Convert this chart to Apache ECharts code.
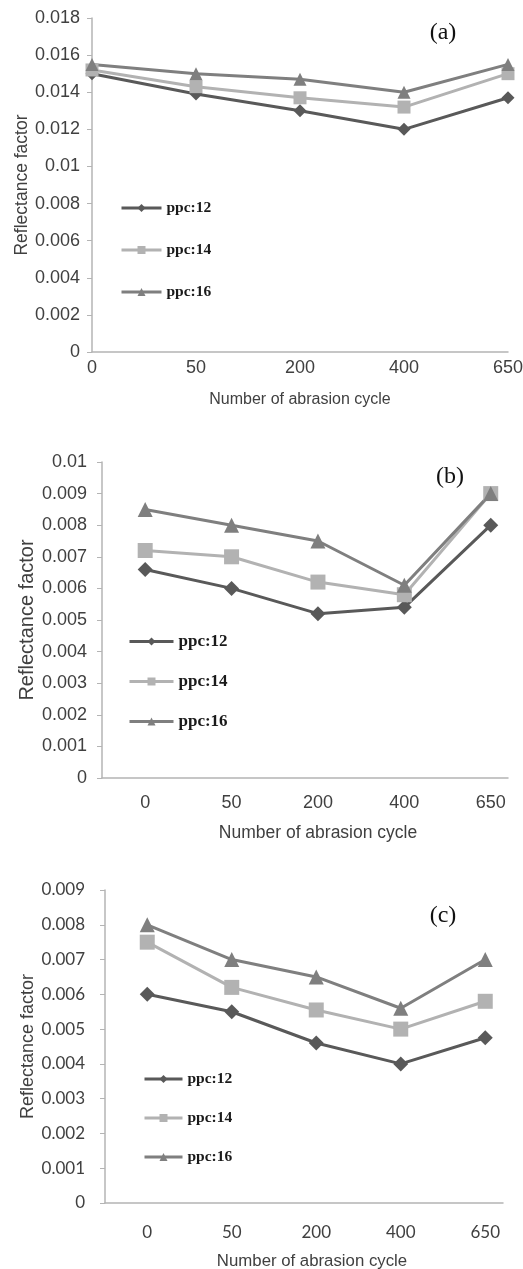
<!DOCTYPE html>
<html>
<head>
<meta charset="utf-8">
<script src="https://cdn.jsdelivr.net/npm/echarts@6/dist/echarts.min.js"></script>
<style>
  html, body { margin: 0; padding: 0; background: #fff; }
  #main { width: 523px; height: 1269px; }
</style>
</head>
<body>
<div id="main"></div>
<script>
  // abrasion cycles (x categories)
  var cycles = ['0', '50', '200', '400', '650'];
  var seriesNames = ['ppc:12', 'ppc:14', 'ppc:16'];

  // panel (a)
  var a_ppc12 = [0.0150, 0.0139, 0.0130, 0.0120, 0.0137];
  var a_ppc14 = [0.0152, 0.0143, 0.0137, 0.0132, 0.0150];
  var a_ppc16 = [0.0155, 0.0150, 0.0147, 0.0140, 0.0155];

  // panel (b)
  var b_ppc12 = [0.0066, 0.0060, 0.0052, 0.0054, 0.0080];
  var b_ppc14 = [0.0072, 0.0070, 0.0062, 0.0058, 0.0090];
  var b_ppc16 = [0.0085, 0.0080, 0.0075, 0.0061, 0.0090];

  // panel (c)
  var c_ppc12 = [0.0060, 0.0055, 0.0046, 0.0040, 0.00475];
  var c_ppc14 = [0.0075, 0.0062, 0.00555, 0.0050, 0.0058];
  var c_ppc16 = [0.0080, 0.0070, 0.0065, 0.0056, 0.0070];

  var colors = ['#595959', '#b2b2b2', '#7f7f7f'];
  var symbols = ['diamond', 'rect', 'triangle'];
  var axisColor = '#b4b4b4';
  var textColor = '#404040';

  function toPoints(arr) {
    return arr.map(function (v, i) { return [i, v]; });
  }

  function makeSeries(idx, lists, symSize) {
    return lists.map(function (arr, k) {
      return {
        name: seriesNames[k],
        type: 'line',
        xAxisIndex: idx,
        yAxisIndex: idx,
        data: toPoints(arr),
        symbol: symbols[k],
        symbolSize: symSize,
        showSymbol: true,
        color: colors[k],
        lineStyle: { width: 3, color: colors[k] },
        itemStyle: { color: colors[k] },
        animation: false
      };
    });
  }

  function makeX(idx, min, max, fontFamily, fontSize, margin, titleSize, nameGap, shift) {
    return {
      type: 'value',
      gridIndex: idx,
      min: min,
      max: max,
      axisLine: { show: true, onZero: false, lineStyle: { color: axisColor, width: 1.5 } },
      axisTick: { show: false },
      splitLine: { show: false },
      axisLabel: {
        customValues: [0, 1, 2, 3, 4],
        formatter: function (v) { return cycles[Math.round(v)]; },
        color: textColor,
        fontFamily: fontFamily,
        fontSize: fontSize,
        margin: margin
      },
      name: 'Number of abrasion cycle',
      nameLocation: 'middle',
      nameGap: nameGap,
      nameMoveOverlap: false,
      nameTextStyle: {
        color: textColor,
        fontFamily: 'Liberation Sans',
        fontSize: titleSize,
        padding: [0, 0, 0, shift]
      }
    };
  }

  function makeY(idx, max, interval, fontFamily, fontSize, margin, titleSize, nameGap) {
    return {
      type: 'value',
      gridIndex: idx,
      min: 0,
      max: max,
      interval: interval,
      axisLine: { show: true, onZero: false, lineStyle: { color: axisColor, width: 1.5 } },
      axisTick: { show: true, inside: false, length: 5, lineStyle: { color: axisColor } },
      splitLine: { show: false },
      axisLabel: {
        color: textColor,
        fontFamily: fontFamily,
        fontSize: fontSize,
        margin: margin
      },
      name: 'Reflectance factor',
      nameLocation: 'middle',
      nameRotate: 90,
      nameGap: nameGap,
      nameMoveOverlap: false,
      nameTextStyle: {
        color: textColor,
        fontFamily: 'Liberation Sans',
        fontSize: titleSize
      }
    };
  }

  function makeLegend(left, top, itemWidth, itemGap, fontSize) {
    return {
      orient: 'vertical',
      left: left,
      top: top,
      padding: 0,
      itemWidth: itemWidth,
      itemHeight: 10,
      itemGap: itemGap,
      data: seriesNames,
      selectedMode: false,
      lineStyle: { width: 3 },
      textStyle: {
        color: '#1a1a1a',
        fontFamily: 'Liberation Serif',
        fontWeight: 'bold',
        fontSize: fontSize
      }
    };
  }

  function panelTag(text, x, y) {
    return {
      type: 'text',
      x: x,
      y: y,
      style: {
        text: text,
        fill: '#111',
        font: '24px "Liberation Serif"',
        align: 'center',
        verticalAlign: 'middle'
      }
    };
  }

  var option = {
    animation: false,
    backgroundColor: '#fff',
    grid: [
      { left: 92, top: 18, width: 416, height: 334, outerBoundsMode: 'none' },
      { left: 102, top: 462, width: 406, height: 316, outerBoundsMode: 'none' },
      { left: 105, top: 890, width: 398, height: 313, outerBoundsMode: 'none' }
    ],
    xAxis: [
      makeX(0, 0, 4, 'Liberation Sans', 18, 7, 16, 40, 0),
      makeX(1, -0.5, 4.2, 'Liberation Sans', 18, 16, 17.5, 46, 26),
      makeX(2, -0.5, 4.21, 'Lato', 17, 21, 16.8, 50, 16)
    ],
    yAxis: [
      makeY(0, 0.018, 0.002, 'Liberation Sans', 18, 12, 17.5, 61),
      makeY(1, 0.01, 0.001, 'Liberation Sans', 18, 15, 20, 65),
      makeY(2, 0.009, 0.001, 'Lato', 17, 20, 18, 68)
    ],
    legend: [
      makeLegend(120, 200, 40, 26, 15.5),
      makeLegend(128, 633, 44, 23, 17),
      makeLegend(143, 1071, 38, 23, 15.5)
    ],
    graphic: [
      panelTag('(a)', 443, 33),
      panelTag('(b)', 450, 477),
      panelTag('(c)', 443, 916)
    ],
    series: []
      .concat(makeSeries(0, [a_ppc12, a_ppc14, a_ppc16], 13))
      .concat(makeSeries(1, [b_ppc12, b_ppc14, b_ppc16], 15))
      .concat(makeSeries(2, [c_ppc12, c_ppc14, c_ppc16], 15))
  };

  var chart = echarts.init(document.getElementById('main'));
  chart.setOption(option);
</script>
</body>
</html>
